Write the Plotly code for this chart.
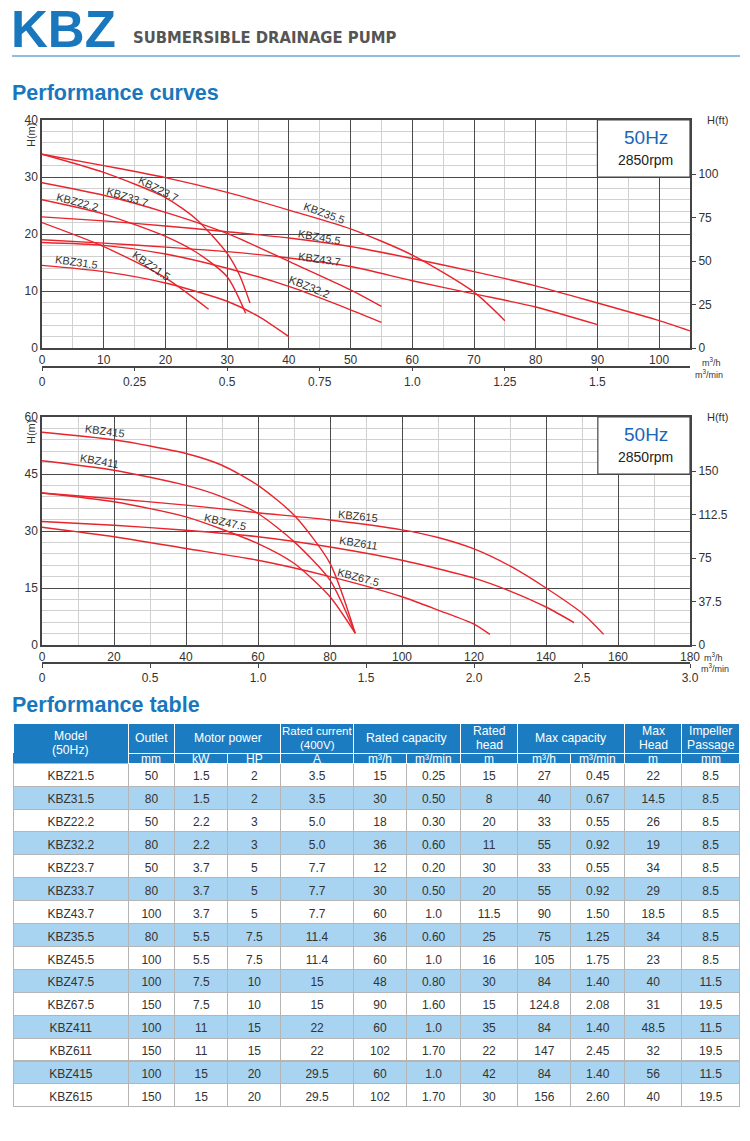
import plotly.graph_objects as go

W, H = 750, 1141


def px(x):
    return x / W


def py(y):
    return 1 - y / H


FONT = "Liberation Sans, Arial, sans-serif"
COND = "DejaVu Sans Condensed, DejaVu Sans, sans-serif"
RED = "#e8242c"
BLUE = "#1877bd"
TXT = "#333333"

# ---------------- top chart data: flow (m3/h) vs head (m) ----------------
q_kbz215 = [0, 10, 20, 27]
h_kbz215 = [22, 17.8, 12.3, 6.8]
q_kbz315 = [0, 10, 20, 30, 35, 40]
h_kbz315 = [14.5, 13.4, 11.4, 8.2, 5.6, 2.0]
q_kbz222 = [0, 10, 20, 25, 30, 33]
h_kbz222 = [26, 23.5, 19.6, 16.8, 12.5, 6.1]
q_kbz322 = [0, 10, 20, 30, 40, 50, 55]
h_kbz322 = [18.5, 18.0, 16.5, 14.0, 10.8, 6.7, 4.5]
q_kbz237 = [0, 10, 20, 25, 30, 32, 33.7]
h_kbz237 = [34, 30.8, 26.4, 22.6, 16.6, 12.8, 7.9]
q_kbz337 = [0, 10, 20, 30, 40, 50, 55]
h_kbz337 = [29, 26.8, 23.8, 20.1, 15.2, 10.2, 7.3]
q_kbz437 = [0, 10, 20, 30, 40, 50, 60, 70, 80, 90]
h_kbz437 = [19, 18.4, 17.7, 16.9, 15.8, 14.3, 11.8, 9.5, 7.2, 4.1]
q_kbz355 = [0, 10, 20, 30, 40, 50, 60, 70, 75]
h_kbz355 = [34, 32, 29.9, 27.3, 24.2, 20.9, 16.3, 9.8, 4.8]
q_kbz455 = [0, 10, 20, 30, 40, 50, 60, 70, 80, 90, 100, 105]
h_kbz455 = [23, 22.3, 21.4, 20.4, 19.3, 17.8, 15.7, 13.4, 10.9, 7.9, 4.8, 3.0]

top_names = ["KBZ21.5", "KBZ31.5", "KBZ22.2", "KBZ32.2", "KBZ23.7",
             "KBZ33.7", "KBZ43.7", "KBZ35.5", "KBZ45.5"]
top_q = [q_kbz215, q_kbz315, q_kbz222, q_kbz322, q_kbz237,
         q_kbz337, q_kbz437, q_kbz355, q_kbz455]
top_h = [h_kbz215, h_kbz315, h_kbz222, h_kbz322, h_kbz237,
         h_kbz337, h_kbz437, h_kbz355, h_kbz455]
top_lbl_q = [17.8, 5.6, 5.8, 43.4, 18.9, 13.9, 44.9, 45.7, 44.9]
top_lbl_h = [14.4, 15.1, 25.6, 10.7, 27.9, 26.5, 15.6, 23.7, 19.5]
top_lbl_a = [35, 8, 15, 22, 27, 17, 8, 20, 10]

# ---------------- bottom chart data ----------------
q_kbz415 = [0, 20, 40, 50, 60, 70, 80, 87]
h_kbz415 = [56, 54, 50.4, 47.3, 42, 34.2, 21.5, 3.1]
q_kbz411 = [0, 20, 40, 50, 60, 70, 80, 87]
h_kbz411 = [48.5, 46, 42, 39, 34.6, 27.2, 17.1, 3.1]
q_kbz475 = [0, 20, 40, 60, 70, 80, 87]
h_kbz475 = [40, 37.7, 33.7, 26.7, 21.5, 12.7, 3.1]
q_kbz615 = [0, 20, 40, 60, 80, 100, 110, 120, 130, 140, 150, 156]
h_kbz615 = [40, 38.5, 36.8, 34.8, 32.9, 30.3, 28.3, 25.3, 20.8, 15.0, 8.4, 2.8]
q_kbz611 = [0, 20, 40, 60, 80, 100, 120, 130, 140, 147.8]
h_kbz611 = [32.5, 31.5, 30.2, 28.5, 25.8, 22.3, 17.6, 14.2, 10.0, 5.9]
q_kbz675 = [0, 20, 40, 60, 80, 100, 110, 120, 124.4]
h_kbz675 = [31, 28.5, 25.4, 22.3, 18, 12.7, 9.2, 5.5, 2.8]

bot_names = ["KBZ415", "KBZ411", "KBZ47.5", "KBZ615", "KBZ611", "KBZ67.5"]
bot_q = [q_kbz415, q_kbz411, q_kbz475, q_kbz615, q_kbz611, q_kbz675]
bot_h = [h_kbz415, h_kbz411, h_kbz475, h_kbz615, h_kbz611, h_kbz675]
bot_lbl_q = [17.5, 16.1, 50.9, 87.8, 87.8, 87.8]
bot_lbl_h = [56.4, 48.4, 32.4, 33.9, 26.8, 17.9]
bot_lbl_a = [8, 10, 13, 6, 9, 15]

# axis ticks
top_ft_ticks = [0, 25, 50, 75, 100]
bot_ft_ticks = [0, 37.5, 75, 112.5, 150]
top_min_ticks = [0, 0.25, 0.5, 0.75, 1.0, 1.25, 1.5]
top_min_text = ["0", "0.25", "0.5", "0.75", "1.0", "1.25", "1.5"]
bot_min_ticks = [0, 0.5, 1.0, 1.5, 2.0, 2.5, 3.0]
bot_min_text = ["0", "0.5", "1.0", "1.5", "2.0", "2.5", "3.0"]

# ---------------- table data ----------------
models = ["KBZ21.5", "KBZ31.5", "KBZ22.2", "KBZ32.2", "KBZ23.7", "KBZ33.7", "KBZ43.7",
          "KBZ35.5", "KBZ45.5", "KBZ47.5", "KBZ67.5", "KBZ411", "KBZ611", "KBZ415", "KBZ615"]
outlet = ["50", "80", "50", "80", "50", "80", "100", "80", "100", "100", "150", "100", "150", "100", "150"]
power_kw = ["1.5", "1.5", "2.2", "2.2", "3.7", "3.7", "3.7", "5.5", "5.5", "7.5", "7.5", "11", "11", "15", "15"]
power_hp = ["2", "2", "3", "3", "5", "5", "5", "7.5", "7.5", "10", "10", "15", "15", "20", "20"]
current_a = ["3.5", "3.5", "5.0", "5.0", "7.7", "7.7", "7.7", "11.4", "11.4", "15", "15", "22", "22", "29.5", "29.5"]
rated_q_h = ["15", "30", "18", "36", "12", "30", "60", "36", "60", "48", "90", "60", "102", "60", "102"]
rated_q_min = ["0.25", "0.50", "0.30", "0.60", "0.20", "0.50", "1.0", "0.60", "1.0", "0.80", "1.60", "1.0", "1.70", "1.0", "1.70"]
rated_head = ["15", "8", "20", "11", "30", "20", "11.5", "25", "16", "30", "15", "35", "22", "42", "30"]
max_q_h = ["27", "40", "33", "55", "33", "55", "90", "75", "105", "84", "124.8", "84", "147", "84", "156"]
max_q_min = ["0.45", "0.67", "0.55", "0.92", "0.55", "0.92", "1.50", "1.25", "1.75", "1.40", "2.08", "1.40", "2.45", "1.40", "2.60"]
max_head = ["22", "14.5", "26", "19", "34", "29", "18.5", "34", "23", "40", "31", "48.5", "32", "56", "40"]
impeller = ["8.5", "8.5", "8.5", "8.5", "8.5", "8.5", "8.5", "8.5", "8.5", "11.5", "19.5", "11.5", "19.5", "11.5", "19.5"]

group_line1 = ["Model", "Outlet", "Motor power", "Rated current", "Rated capacity",
               "Rated", "Max capacity", "Max", "Impeller"]
group_line2 = ["(50Hz)", "", "", "(400V)", "", "head", "", "Head", "Passage"]
group_widths = [114.8, 46.5, 106.2, 72.3, 107.2, 57.4, 106.7, 57.4, 57.5]
unit_headers = ["", "mm", "kW", "HP", "A", "m³/h", "m³/min", "m", "m³/h", "m³/min", "m", "mm"]
unit_widths = [114.8, 46.5, 53.1, 53.1, 72.3, 53.6, 53.6, 57.4, 53.1, 53.6, 57.4, 57.5]

TBL_L, TBL_TOP, GROUP_H, UNIT_H, ROW_H = 13.4, 723.3, 30.0, 10.0, 22.9
HEAD_BLUE = "#1b7cc1"
ROW_BLUE = "#a8d4f1"

fig = go.Figure()

for name, q, h in zip(top_names, top_q, top_h):
    fig.add_trace(go.Scatter(x=q, y=h, mode="lines", name=name, xaxis="x", yaxis="y",
                             line=dict(color=RED, width=1.4, shape="spline", smoothing=0.7),
                             showlegend=False, hoverinfo="skip"))
for name, q, h in zip(bot_names, bot_q, bot_h):
    fig.add_trace(go.Scatter(x=q, y=h, mode="lines", name=name, xaxis="x3", yaxis="y3",
                             line=dict(color=RED, width=1.4, shape="spline", smoothing=0.7),
                             showlegend=False, hoverinfo="skip"))
fig.add_trace(go.Scatter(x=[None], y=[None], xaxis="x2", yaxis="y2", showlegend=False, hoverinfo="skip"))
fig.add_trace(go.Scatter(x=[None], y=[None], xaxis="x4", yaxis="y4", showlegend=False, hoverinfo="skip"))

tbl_x = [px(TBL_L), px(TBL_L + sum(unit_widths))]
# group header band (text is added as annotations below)
fig.add_trace(go.Table(
    domain=dict(x=tbl_x, y=[py(TBL_TOP + 80), py(TBL_TOP)]),
    columnwidth=group_widths,
    header=dict(values=[""] * len(group_widths), height=GROUP_H + UNIT_H,
                fill_color=HEAD_BLUE, line=dict(color="white", width=1)),
    cells=dict(values=[[""] for _ in group_widths], height=20, fill_color="white",
               line=dict(color="white", width=1)),
))
n = len(models)
row_fill = ["white" if i % 2 == 0 else ROW_BLUE for i in range(n)]
unit_line = ["rgba(0,0,0,0)"] + ["white"] * (len(unit_widths) - 1)
fig.add_trace(go.Table(
    domain=dict(x=tbl_x, y=[py(1112), py(TBL_TOP + GROUP_H)]),
    columnwidth=unit_widths,
    header=dict(values=[""] * len(unit_widths), height=UNIT_H,
                fill_color=HEAD_BLUE, line=dict(color=unit_line, width=1)),
    cells=dict(values=[models, outlet, power_kw, power_hp, current_a, rated_q_h, rated_q_min,
                       rated_head, max_q_h, max_q_min, max_head, impeller],
               height=ROW_H, align="center",
               fill_color=[row_fill] * len(unit_widths),
               line=dict(color="#b5b5b5", width=1),
               font=dict(family=FONT, size=12, color=TXT)),
))

tickfont = dict(family=FONT, size=12, color=TXT)
major = "#4a4a4a"
minor_c = "#d0d0d0"


def gax(domain, rng, dtick, mdtick, anchor):
    return dict(domain=domain, range=rng, anchor=anchor, dtick=dtick, tick0=0,
                showgrid=True, gridcolor=major, gridwidth=1,
                minor=dict(dtick=mdtick, tick0=0, showgrid=True, gridcolor=minor_c, gridwidth=1),
                showline=True, linecolor="#444", linewidth=1.5, mirror=True, automargin=False,
                ticks="", zeroline=False, tickfont=tickfont, fixedrange=True)


def sec_x(over, pos, rng, tv, tt):
    return dict(overlaying=over, anchor="free", position=pos, range=rng,
                tickvals=tv, ticktext=tt, ticks="outside", ticklen=4, automargin=False,
                tickcolor="#444", showline=True, linecolor="#444", linewidth=1.5,
                showgrid=False, zeroline=False, tickfont=tickfont, fixedrange=True)


def sec_y(over, anchor, rng, tv):
    return dict(overlaying=over, side="right", anchor=anchor, range=rng, automargin=False,
                tickvals=tv, ticks="outside", ticklen=5, tickcolor="#444",
                showgrid=False, zeroline=False, showline=False, tickfont=tickfont, fixedrange=True)


M2FT = 3.28084
dom_x = [px(42), px(690)]

fig.update_layout(
    width=W, height=H, margin=dict(l=0, r=0, t=0, b=0, pad=0, autoexpand=False),
    paper_bgcolor="white", plot_bgcolor="white", showlegend=False,
    xaxis=gax(dom_x, [0, 105], 10, 5, "y"),
    yaxis=gax([py(348), py(120)], [0, 40], 10, 2, "x"),
    xaxis2=sec_x("x", py(366.7), [0, 105 / 60], top_min_ticks, top_min_text),
    yaxis2=sec_y("y", "x", [0, 40 * M2FT], top_ft_ticks),
    xaxis3=gax(dom_x, [0, 180], 20, 10, "y3"),
    yaxis3=gax([py(645), py(417)], [0, 60], 15, 3, "x3"),
    xaxis4=sec_x("x3", py(663), [0, 3.0], bot_min_ticks, bot_min_text),
    yaxis4=sec_y("y3", "x3", [0, 60 * M2FT], bot_ft_ticks),
)

shapes = [
    dict(type="line", xref="paper", yref="paper", x0=px(12), x1=px(740), y0=py(56), y1=py(56),
         line=dict(color="#8dbde0", width=2)),
    dict(type="rect", xref="x", yref="y", x0=90, x1=105, y0=30, y1=40, fillcolor="white",
         line=dict(color="#444", width=1.2), layer="between"),
    dict(type="rect", xref="x3", yref="y3", x0=154.4, x1=180, y0=45, y1=60, fillcolor="white",
         line=dict(color="#444", width=1.2), layer="between"),
]
fig.update_layout(shapes=shapes)

ann = []


def ptext(x, y, text, size, color=TXT, family=FONT, xanchor="left", yanchor="middle", angle=0):
    ann.append(dict(x=px(x), y=py(y), xref="paper", yref="paper", text=text, showarrow=False,
                    xanchor=xanchor, yanchor=yanchor, textangle=angle,
                    font=dict(size=size, color=color, family=family)))


ptext(9, 29, "<b>KBZ</b>", 51, BLUE)
ptext(131, 37, "<b>SUBMERSIBLE DRAINAGE PUMP</b>", 16.5, "#555555", COND)
ptext(10, 93, "<b>Performance curves</b>", 21.5, BLUE)
ptext(10, 705, "<b>Performance table</b>", 21.5, BLUE)

for dy in (0, 297):
    ptext(31, 135 + dy, "H(m)", 11, angle=-90, xanchor="center")
    ptext(705, 120 + dy, "H(ft)", 11)
ptext(646, 138, "50Hz", 19, "#1a66b8", xanchor="center")
ptext(645, 160, "2850rpm", 14, "#222", xanchor="center")
ptext(646, 435, "50Hz", 19, "#1a66b8", xanchor="center")
ptext(645, 457, "2850rpm", 14, "#222", xanchor="center")
ptext(700, 362, "m<sup>3</sup>/h", 9)
ptext(693, 374, "m<sup>3</sup>/min", 9)
ptext(702, 657, "m<sup>3</sup>/h", 9)
ptext(699, 668, "m<sup>3</sup>/min", 9)

for name, qx, hy, a in zip(top_names, top_lbl_q, top_lbl_h, top_lbl_a):
    ann.append(dict(x=qx, y=hy, xref="x", yref="y", text=name, showarrow=False, textangle=a,
                    font=dict(size=11, color=TXT, family=FONT)))
for name, qx, hy, a in zip(bot_names, bot_lbl_q, bot_lbl_h, bot_lbl_a):
    ann.append(dict(x=qx, y=hy, xref="x3", yref="y3", text=name, showarrow=False, textangle=a,
                    font=dict(size=11, color=TXT, family=FONT)))

# table header texts
x0 = TBL_L
for i, (l1, l2, w) in enumerate(zip(group_line1, group_line2, group_widths)):
    cx = x0 + w / 2
    band = GROUP_H + UNIT_H if i == 0 else GROUP_H
    cy = TBL_TOP + band / 2
    fs = 11.5 if len(l1) > 12 and w < 80 else 12.2
    if l2:
        ptext(cx, cy - 7, l1, fs, "white", xanchor="center")
        ptext(cx, cy + 7, l2, fs, "white", xanchor="center")
    else:
        ptext(cx, cy, l1, fs, "white", xanchor="center")
    x0 += w
x0 = TBL_L
for u, w in zip(unit_headers, unit_widths):
    if u:
        ptext(x0 + w / 2, TBL_TOP + GROUP_H + UNIT_H / 2 + 0.5, u, 12, "white", xanchor="center")
    x0 += w

fig.update_layout(annotations=ann)
fig.write_html("out.html", config={"displayModeBar": False},
               post_script="document.body.style.margin='0px';document.body.style.padding='0px';")
